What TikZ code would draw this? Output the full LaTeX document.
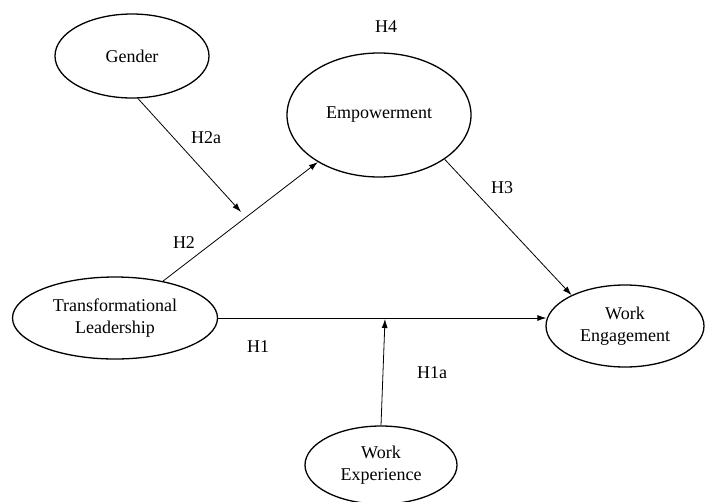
\documentclass[tikz,border=0pt]{standalone}
\usepackage{fontspec}
\setmainfont{Liberation Serif}
\usetikzlibrary{shapes.geometric,arrows.meta}
\begin{document}
\begin{tikzpicture}[x=1pt,y=-1pt,
  var/.style={ellipse,draw,line width=1.3pt,inner sep=0pt,align=center,
    font=\fontsize{18}{22}\selectfont},
  lbl/.style={font=\fontsize{18}{22}\selectfont,inner sep=0pt},
  arr/.style={line width=0.8pt,-{Latex[length=9pt,width=6pt]}}]
\useasboundingbox (0,0) rectangle (708,501);
\node[var,minimum width=154pt,minimum height=84pt] (g) at (132,56) {Gender};
\node[var,minimum width=184pt,minimum height=124pt] (emp) at (379,115) {Empowerment};
\node[var,minimum width=205pt,minimum height=82pt] (tl) at (115,318) {Transformational\\Leadership};
\node[var,minimum width=158pt,minimum height=82pt] (we) at (625,326) {Work\\Engagement};
\node[var,minimum width=152pt,minimum height=78pt] (wx) at (381,465) {Work\\Experience};
\coordinate (m2) at (241,212);
\coordinate (m1) at (385,319);
\draw[arr] (tl) -- (emp);
\draw[arr] (g.-82) -- (m2);
\draw[arr] (emp.-34) -- (we.150);
\draw[arr] (tl.east) -- ([xshift=1pt]tl.east -| we.west);
\draw[arr] (wx.north) -- (m1);
\node[lbl] (h4) at (386,27) {H4};
\node[lbl] (h2a) at (206,138) {H2a};
\node[lbl] (h2) at (184,243) {H2};
\node[lbl] (h3) at (502,188) {H3};
\node[lbl] (h1) at (258,347) {H1};
\node[lbl] (h1a) at (432,373) {H1a};
\end{tikzpicture}
\end{document}
